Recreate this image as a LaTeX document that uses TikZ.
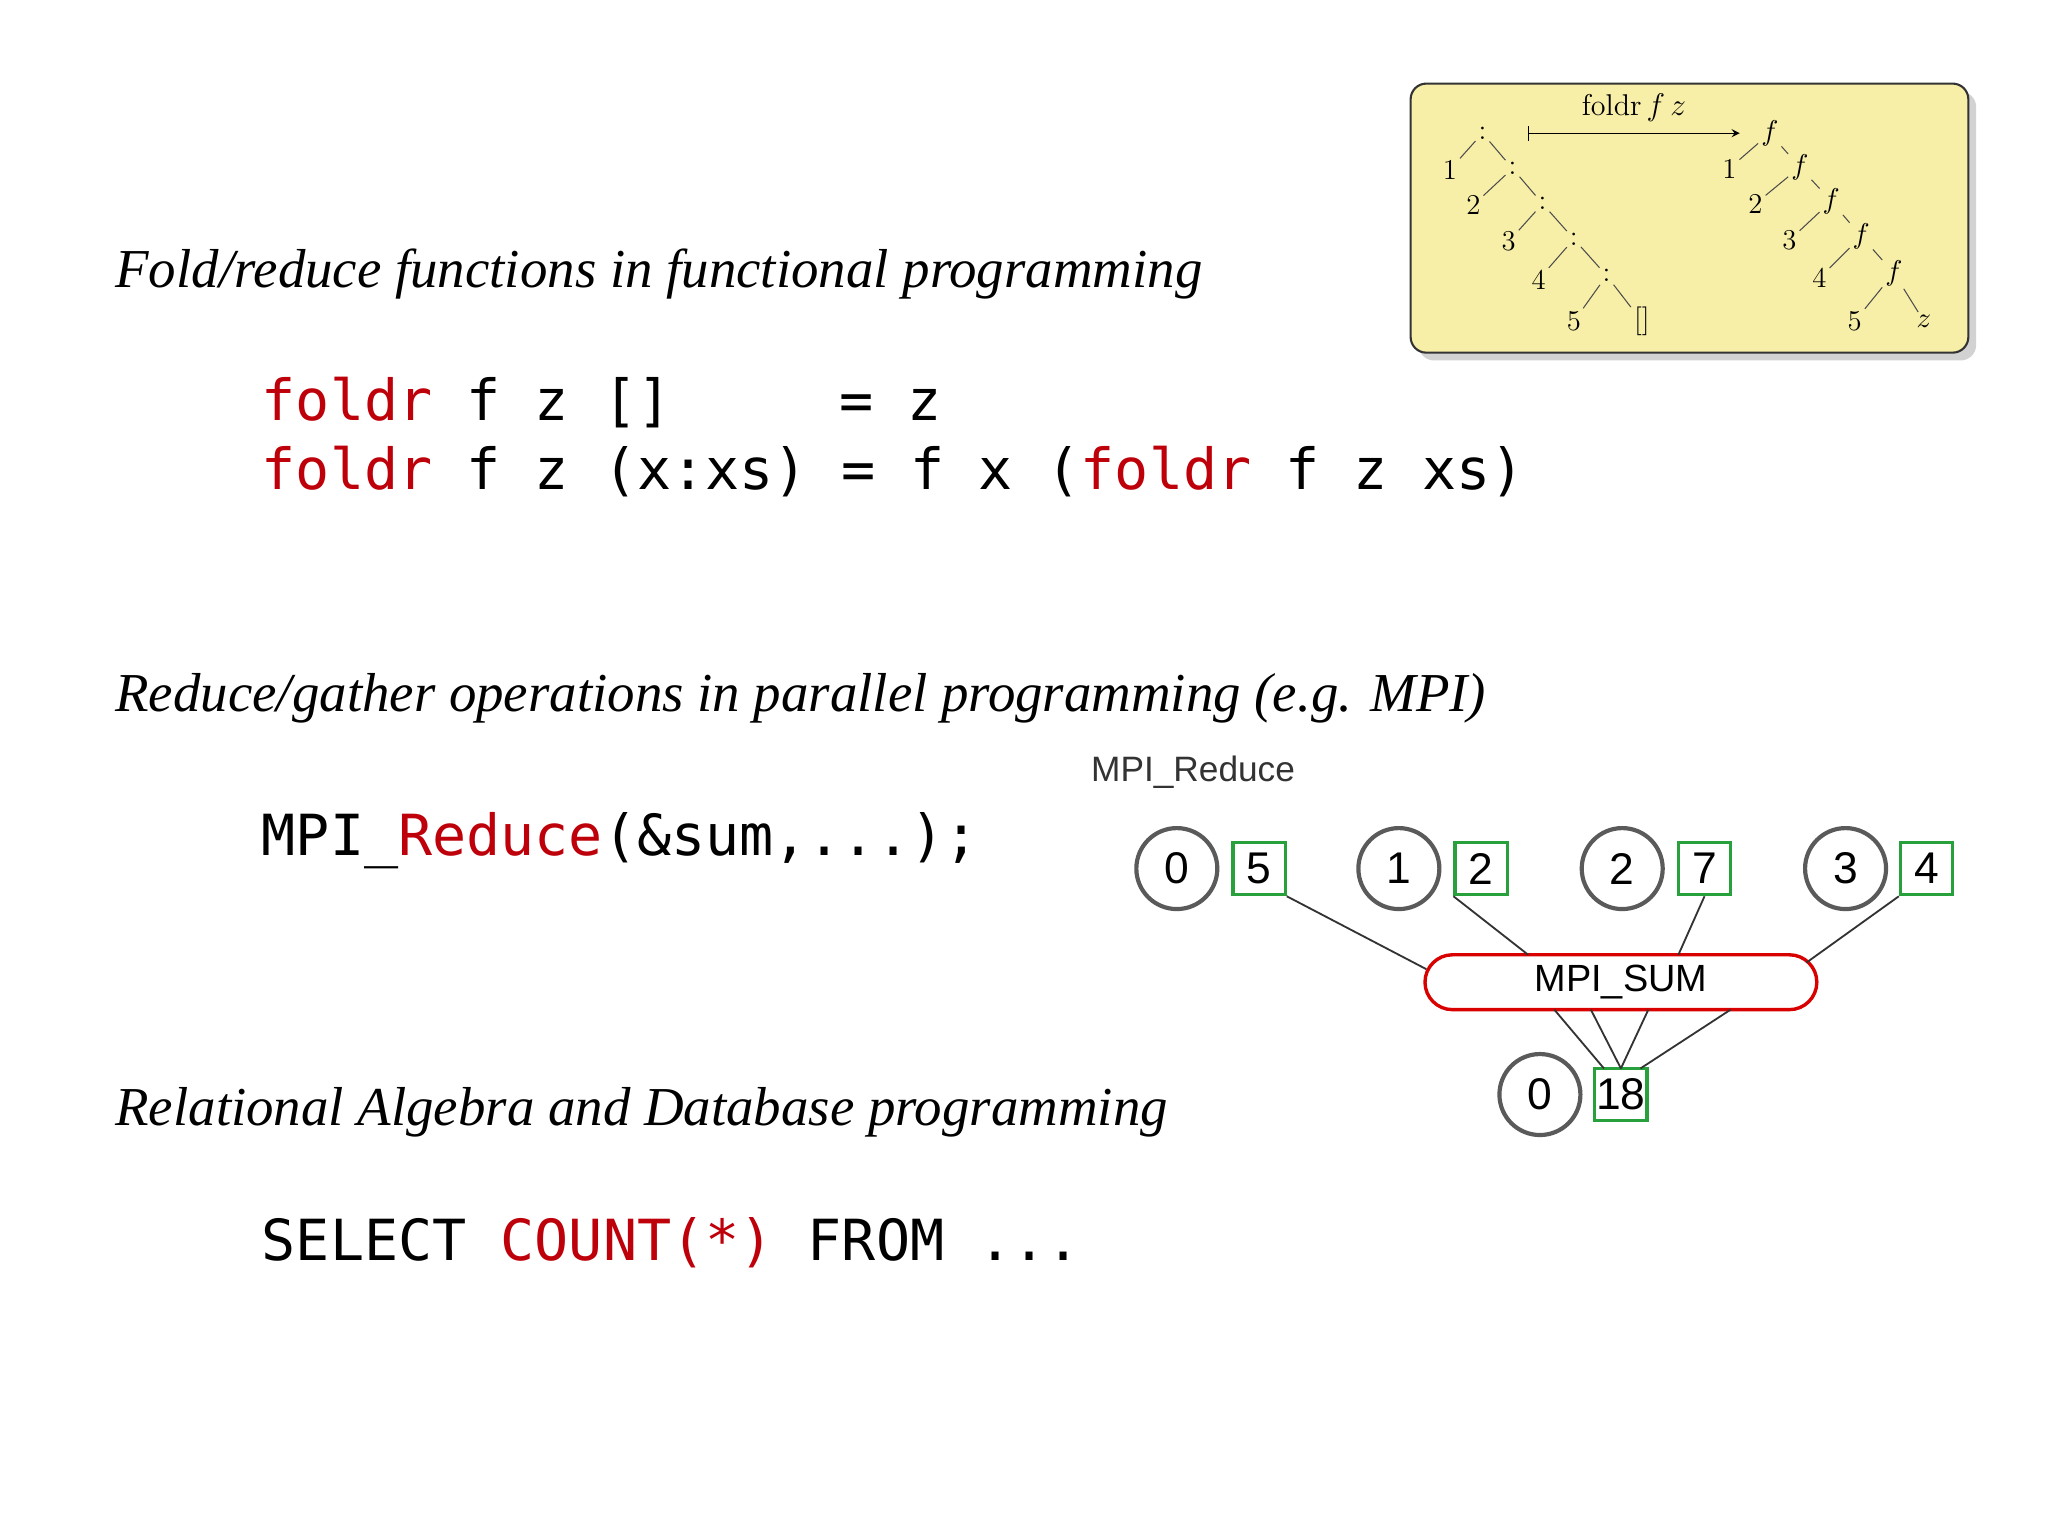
\documentclass[tikz,border=0pt]{standalone}
\usepackage{fontspec}
\setmonofont{DejaVu Sans Mono}
\newfontfamily\headfont{Liberation Serif}
\newfontfamily\mpifont{Liberation Sans}
\usetikzlibrary{shadows}
\definecolor{codered}{RGB}{190,0,10}
\definecolor{boxyellow}{RGB}{247,238,168}
\definecolor{sqgreen}{RGB}{40,160,60}
\definecolor{circgray}{RGB}{90,90,90}
\begin{document}
\begin{tikzpicture}[x=0.5pt,y=-0.5pt,
  head/.style={anchor=base west,inner sep=0,font=\headfont\itshape\fontsize{21}{25}\selectfont},
  code/.style={anchor=base west,inner sep=0,font=\ttfamily\fontsize{21.7}{26}\selectfont},
  tr/.style={inner sep=1pt,font=\fontsize{11}{13}\selectfont},
  tl/.style={thin,gray!60!black},
  proc/.style={circle,draw=circgray,line width=1.6pt,minimum size=31pt,inner sep=0,font=\mpifont\fontsize{17}{20}\selectfont},
  val/.style={rectangle,draw=sqgreen,line width=1.2pt,minimum size=20pt,inner sep=0,fill=white,font=\mpifont\fontsize{17}{20}\selectfont},
  conn/.style={line width=0.7pt,black!80}]
\useasboundingbox (0,0) rectangle (1568,1177);
\fill[white] (0,0) rectangle (1568,1177);
% headings and code
\node[head] (h1) at (88,220) {Fold/reduce functions in functional programming};
\node[code] (c1) at (200,322) {\textcolor{codered}{foldr} f z []};
\node[code] (c1b) at (642,322) {= z};
\node[code] (c2) at (200,375) {\textcolor{codered}{foldr} f z (x:xs) = f x (\textcolor{codered}{foldr} f z xs)};
\node[head] (h2) at (88,545) {Reduce/gather operations in parallel programming (e.g. MPI)};
\node[code] (c3) at (200,655) {MPI\_\textcolor{codered}{Reduce}(\&sum,...);};
\node[head] (h3) at (88,862) {Relational Algebra and Database programming};
\node[code] (c4) at (200,965) {SELECT \textcolor{codered}{COUNT(*)} FROM ...};
% fold box
\draw[rounded corners=6pt,fill=boxyellow,draw=black!80,line width=0.8pt,drop shadow={shadow xshift=3pt,shadow yshift=-3pt,opacity=0.35}] (1080,64) rectangle (1507,270);
\node[tr] (a1) at (1135,102) {:};
\node[tr] (a2) at (1158,129) {:};
\node[tr] (a3) at (1181,156) {:};
\node[tr] (a4) at (1205,183) {:};
\node[tr] (a5) at (1230,211) {:};
\node[tr] (n1) at (1110,130) {1};
\node[tr] (n2) at (1128,157) {2};
\node[tr] (n3) at (1155,185) {3};
\node[tr] (n4) at (1178,214) {4};
\node[tr] (n5) at (1205,246) {5};
\node[tr] (nil) at (1257,246) {[]};
\foreach \p/\l/\r in {a1/n1/a2,a2/n2/a3,a3/n3/a4,a4/n4/a5,a5/n5/nil}{
  \draw[tl] (\p) -- (\l); \draw[tl] (\p) -- (\r);}
\node[tr] (f1) at (1355,102) {$f$};
\node[tr] (f2) at (1378,128) {$f$};
\node[tr] (f3) at (1402,154) {$f$};
\node[tr] (f4) at (1425,181) {$f$};
\node[tr] (f5) at (1450,209) {$f$};
\node[tr] (m1) at (1324,129) {1};
\node[tr] (m2) at (1344,156) {2};
\node[tr] (m3) at (1370,184) {3};
\node[tr] (m4) at (1393,213) {4};
\node[tr] (m5) at (1420,246) {5};
\node[tr] (zz) at (1473,246) {$z$};
\foreach \p/\l/\r in {f1/m1/f2,f2/m2/f3,f3/m3/f4,f4/m4/f5,f5/m5/zz}{
  \draw[tl] (\p) -- (\l); \draw[tl] (\p) -- (\r);}
\coordinate (arS) at (1170,102);
\coordinate (arE) at (1332,102);
\draw[thin,|->,>=stealth] (arS) -- node[above=1pt,font=\fontsize{11.5}{13}\selectfont] {foldr\,$f\,z$} (arE);
% MPI diagram
\node[anchor=base west,inner sep=0,font=\mpifont\fontsize{13.5}{16}\selectfont,text=black!80] (mr) at (835,598) {MPI\_Reduce};
\node[proc] (p0) at (901,665) {0};
\node[val] (s0) at (964,665) {5};
\node[proc] (p1) at (1071,665) {1};
\node[val] (s1) at (1134,665) {2};
\node[proc] (p2) at (1242,665) {2};
\node[val] (s2) at (1305,665) {7};
\node[proc] (p3) at (1413,665) {3};
\node[val] (s3) at (1475,665) {4};
\node[rectangle,rounded corners=10.5pt,draw=red!85!black,line width=1.3pt,fill=white,minimum width=150pt,minimum height=21pt,inner sep=0,font=\mpifont\fontsize{14.5}{17}\selectfont] (sum) at (1241,752) {MPI\_SUM};
\node[proc] (pr) at (1179,838) {0};
\node[val] (sr) at (1241,838) {18};
\coordinate (t0) at (1092,742);
\coordinate (t1) at (1170,731);
\coordinate (t2) at (1285,731);
\coordinate (t3) at (1383,737);
\draw[conn] (s0.south east) -- (t0);
\draw[conn] (s1.south west) -- (t1);
\draw[conn] (s2.south) -- (t2);
\draw[conn] (s3.south west) -- (t3);
\coordinate (b0) at (1190,773);
\coordinate (b1) at (1218,773);
\coordinate (b2) at (1262,773);
\coordinate (b3) at (1325,773);
\coordinate (r0) at (1228,818);
\coordinate (r1) at (1241,818);
\coordinate (r3) at (1256,818);
\draw[conn] (b0) -- (r0);
\draw[conn] (b1) -- (r1);
\draw[conn] (b2) -- (r1);
\draw[conn] (b3) -- (r3);
\end{tikzpicture}
\end{document}
